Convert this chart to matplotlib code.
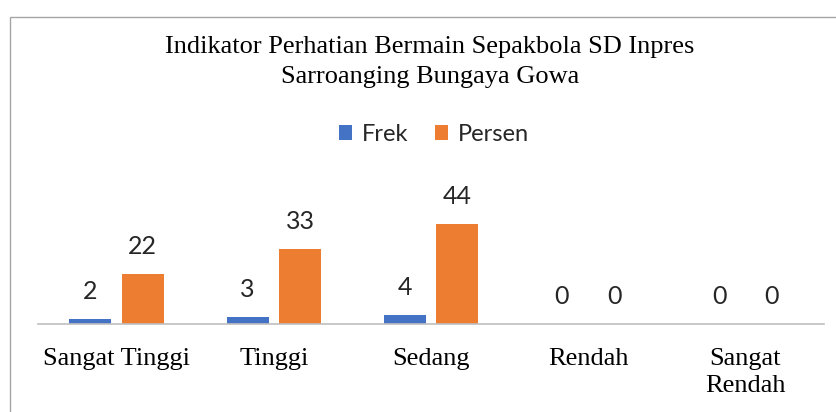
import matplotlib
matplotlib.use("Agg")
import matplotlib.pyplot as plt
import numpy as np
from matplotlib.patches import Rectangle

categories = ["Sangat Tinggi", "Tinggi", "Sedang", "Rendah", "Sangat\nRendah"]
frek = [2, 3, 4, 0, 0]
persen = [22, 33, 44, 0, 0]
series_names = ["Frek", "Persen"]
title = "Indikator Perhatian Bermain Sepakbola SD Inpres\nSarroanging Bungaya Gowa"

W, H = 836, 412
fig = plt.figure(figsize=(W / 100, H / 100), dpi=100)
fig.patch.set_facecolor("white")

# chart border
fig.patches.append(Rectangle((10 / W, -0.2), 1.2, 1.2 - 17 / H, transform=fig.transFigure,
                             fill=False, edgecolor="#A6A6A6", linewidth=1.0))

ax = fig.add_axes([38 / W, (H - 324) / H, (824 - 38) / W, 174 / H])
x = np.arange(len(categories))
bw = 0.267
off = 0.167
blue = "#4472C4"
orange = "#ED7D31"
b1 = ax.bar(x - off, frek, bw, color=blue, label=series_names[0])
b2 = ax.bar(x + off, persen, bw, color=orange, label=series_names[1])

lab_font = dict(family=["Lato", "DejaVu Sans"], fontsize=18, color="#262626")
for xi, v in zip(x - off, frek):
    ax.annotate(str(v), (xi, v), xytext=(0, 20), textcoords="offset points",
                ha="center", va="center", **lab_font)
for xi, v in zip(x + off, persen):
    ax.annotate(str(v), (xi, v), xytext=(0, 20), textcoords="offset points",
                ha="center", va="center", **lab_font)

ax.set_xlim(-0.5, 4.5)
ax.set_ylim(0, 76.5)
ax.set_yticks([])
ax.set_xticks(x)
ax.set_xticklabels(categories, family="Liberation Serif", fontsize=19, color="#000000",
                   linespacing=1.3)
ax.tick_params(axis="x", length=0, pad=17)
for s in ["top", "right", "left"]:
    ax.spines[s].set_visible(False)
ax.spines["bottom"].set_color("#BFBFBF")
ax.spines["bottom"].set_linewidth(1.2)
ax.patch.set_alpha(0)

fig.text(430 / W, 1 - 62 / H, title, ha="center", va="center", family="Liberation Serif",
         fontsize=19, color="#000000", linespacing=1.45)

leg = fig.legend(handles=[b1, b2], loc="center", bbox_to_anchor=(434 / W, 1 - 134 / H),
                 ncol=2, frameon=False, prop=dict(family="Lato", size=17),
                 handlelength=0.55, handleheight=0.6, handletextpad=0.45, columnspacing=1.1)
for t in leg.get_texts():
    t.set_color("#262626")

fig.savefig("out.png", dpi=100)
